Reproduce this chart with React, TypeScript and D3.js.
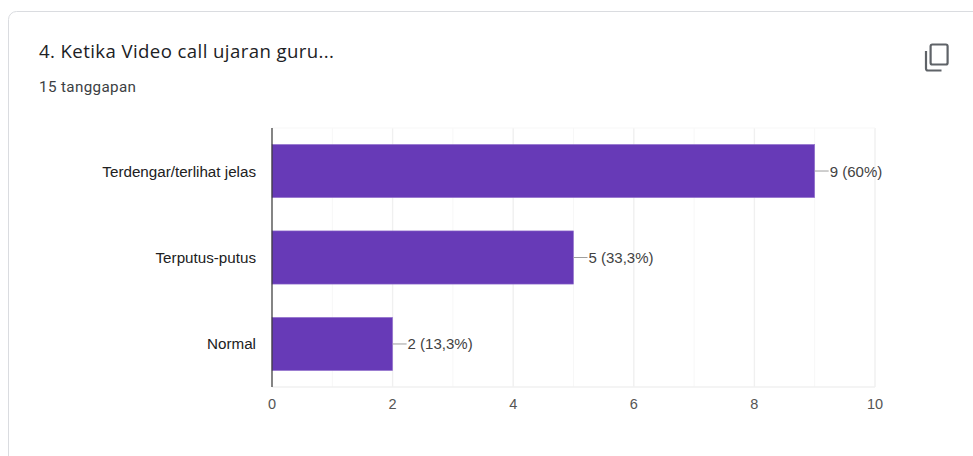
import React from "react";
import * as d3 from "d3";

const categories = ["Terdengar/terlihat jelas", "Terputus-putus", "Normal"];
const counts = [9, 5, 2];
const valueLabels = ["9 (60%)", "5 (33,3%)", "2 (13,3%)"];
const majorTicks = [0, 2, 4, 6, 8, 10];
const minorTicks = [1, 3, 5, 7, 9];
const title = "4. Ketika Video call ujaran guru...";
const subtitle = "15 tanggapan";

const W = 973, H = 456;
const plot = { left: 272, right: 875, top: 128, bottom: 387 };

export default function App() {
  const x = d3.scaleLinear().domain([0, 10]).range([plot.left, plot.right]);
  const y = d3.scaleBand<string>().domain(categories).range([plot.top, plot.bottom]).paddingInner(0.385).paddingOuter(0.19);
  const chartFont = "'Liberation Sans', Arial, sans-serif";
  return (
    <svg width={W} height={H} style={{ position: "fixed", left: 0, top: 0, display: "block" }}>
      <rect width={W} height={H} fill="#fff" />
      <rect x={8.5} y={11.5} width={1000} height={500} rx={8} fill="#fff" stroke="#dadce0" />
      <text x={39} y={58} fontFamily="'Open Sans', sans-serif" fontSize={18.6} fill="#202124" textLength={295} lengthAdjust="spacing">{title}</text>
      <text x={39} y={92} fontFamily="Roboto, sans-serif" fontSize={15.2} fill="#3c4043" textLength={97} lengthAdjust="spacing">{subtitle}</text>
      <g fill="none" stroke="#5f6368" strokeWidth={2.2}>
        <path d="M926 51 v17.5 a2 2 0 0 0 2 2 h13.5" />
        <rect x={930.6} y={44.5} width={17} height={20} rx={1.8} />
      </g>
      {minorTicks.map(t => (
        <line key={t} x1={x(t)} x2={x(t)} y1={plot.top} y2={plot.bottom} stroke="#f7f7f7" strokeWidth={1} />
      ))}
      {majorTicks.slice(1).map(t => (
        <line key={t} x1={x(t)} x2={x(t)} y1={plot.top} y2={plot.bottom} stroke="#f0f0f0" strokeWidth={1.4} />
      ))}
      <line x1={plot.left} x2={plot.right} y1={plot.top} y2={plot.top} stroke="#f7f7f7" />
      <line x1={plot.left} x2={plot.right} y1={plot.bottom} y2={plot.bottom} stroke="#f0f0f0" strokeWidth={1.4} />
      {categories.map((c, i) => {
        const by = y(c)!;
        const bh = y.bandwidth();
        const cy = by + bh / 2;
        const end = x(counts[i]);
        return (
          <g key={c}>
            <rect x={plot.left} y={by} width={end - plot.left} height={bh} fill="#673ab7" stroke="#9575cd" strokeWidth={0.6} />
            <line x1={end} x2={end + 14} y1={cy} y2={cy} stroke="#9e9e9e" strokeWidth={1} />
            <text x={end + 15} y={cy + 5.5} fontFamily={chartFont} fontSize={15} fill="#424242">{valueLabels[i]}</text>
            <text x={256} y={cy + 5.5} textAnchor="end" fontFamily={chartFont} fontSize={15.2} fill="#212121">{c}</text>
          </g>
        );
      })}
      <line x1={plot.left} x2={plot.left} y1={plot.top} y2={plot.bottom} stroke="#333" strokeWidth={1.2} />
      {majorTicks.map(t => (
        <text key={t} x={x(t)} y={408.5} textAnchor="middle" fontFamily={chartFont} fontSize={14.5} fill="#555">{t}</text>
      ))}
    </svg>
  );
}
